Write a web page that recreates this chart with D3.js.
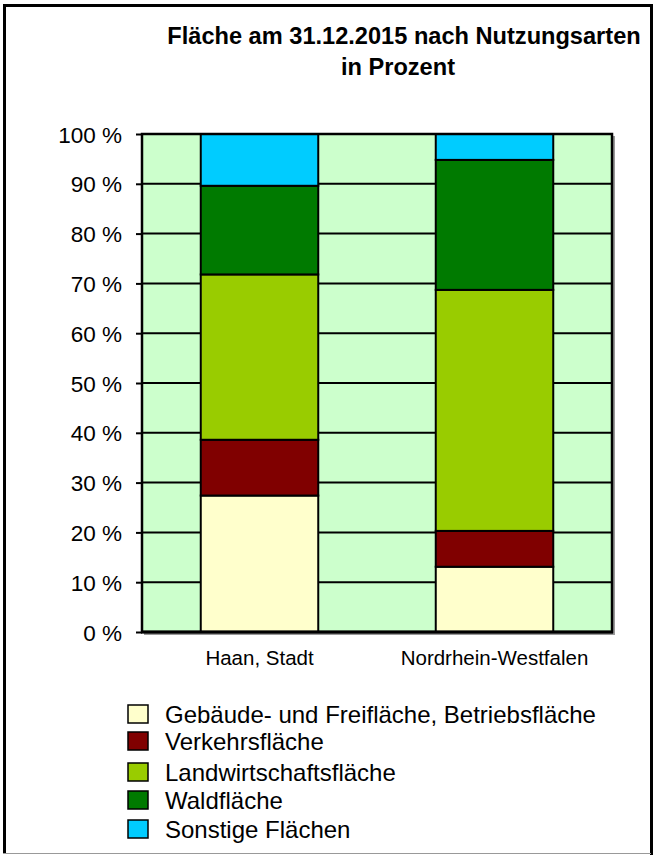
<!DOCTYPE html>
<html>
<head>
<meta charset="utf-8">
<script src="https://cdn.jsdelivr.net/npm/d3@7/dist/d3.min.js"></script>
<style>
  html, body { margin: 0; padding: 0; background: #fff; }
  svg { display: block; font-family: "Liberation Sans", Arial, sans-serif; }
</style>
</head>
<body>
<svg id="chart" width="654" height="855"></svg>
<script>
// ---- data ----
const titleLines = ["Fläche am 31.12.2015 nach Nutzungsarten", "in Prozent"];
const categories = ["Haan, Stadt", "Nordrhein-Westfalen"];
const seriesNames = [
  "Gebäude- und Freifläche, Betriebsfläche",
  "Verkehrsfläche",
  "Landwirtschaftsfläche",
  "Waldfläche",
  "Sonstige Flächen"
];
const seriesColors = ["#FFFFCC", "#800000", "#99CC00", "#007A00", "#00CCFF"];
const gebaeude       = [27.4, 13.1];
const verkehr        = [11.2,  7.2];
const landwirtschaft = [33.2, 48.4];
const wald           = [17.8, 26.1];
const sonstige       = [10.4,  5.2];
const yTicks = [0, 10, 20, 30, 40, 50, 60, 70, 80, 90, 100];

// ---- build table ----
const seriesValues = [gebaeude, verkehr, landwirtschaft, wald, sonstige];
const table = categories.map((c, i) => {
  const row = { cat: c };
  seriesNames.forEach((s, j) => row[s] = seriesValues[j][i]);
  return row;
});
const stacked = d3.stack().keys(seriesNames)(table);

const svg = d3.select("#chart");

// ---- outer frame ----
svg.append("line").attr("x1", 4.5).attr("y1", 5).attr("x2", 4.5).attr("y2", 853)
  .attr("stroke", "#000").attr("stroke-width", 3);
svg.append("line").attr("x1", 3).attr("y1", 5.5).attr("x2", 652).attr("y2", 5.5)
  .attr("stroke", "#000").attr("stroke-width", 3);
svg.append("line").attr("x1", 651.5).attr("y1", 4).attr("x2", 651.5).attr("y2", 855)
  .attr("stroke", "#000").attr("stroke-width", 3);
svg.append("line").attr("x1", 3).attr("y1", 853.5).attr("x2", 651).attr("y2", 853.5)
  .attr("stroke", "#999").attr("stroke-width", 1);

// ---- title ----
const title = svg.append("text").attr("text-anchor", "middle")
  .attr("font-weight", "bold").attr("font-size", 23.6).attr("fill", "#000");
title.append("tspan").attr("x", 404).attr("y", 44).text(titleLines[0]);
title.append("tspan").attr("x", 398).attr("y", 75).text(titleLines[1]);

// ---- scales ----
const plot = { left: 142, right: 612, top: 134, bottom: 632 };
const x = d3.scaleBand().domain(categories).range([plot.left, plot.right])
  .paddingInner(0.5).paddingOuter(0.25);
const y = d3.scaleLinear().domain([0, 100]).range([plot.bottom, plot.top]);

// shadow
svg.append("rect").attr("x", plot.left + 2).attr("y", plot.top + 2)
  .attr("width", plot.right - plot.left + 1).attr("height", plot.bottom - plot.top + 1)
  .attr("fill", "#999");
// plot background
svg.append("rect").attr("x", plot.left).attr("y", plot.top)
  .attr("width", plot.right - plot.left).attr("height", plot.bottom - plot.top)
  .attr("fill", "#CCFFCC");

// gridlines
svg.append("g").selectAll("line").data(yTicks).join("line")
  .attr("x1", plot.left).attr("x2", plot.right)
  .attr("y1", d => y(d)).attr("y2", d => y(d))
  .attr("stroke", "#000").attr("stroke-width", 2);

// bars
svg.append("g").selectAll("g").data(stacked).join("g")
  .attr("fill", (d, i) => seriesColors[i])
  .selectAll("rect").data(d => d).join("rect")
  .attr("x", d => x(d.data.cat))
  .attr("width", x.bandwidth())
  .attr("y", d => y(d[1]))
  .attr("height", d => y(d[0]) - y(d[1]))
  .attr("stroke", "#000").attr("stroke-width", 2);

// plot border
svg.append("rect").attr("x", plot.left).attr("y", plot.top)
  .attr("width", plot.right - plot.left).attr("height", plot.bottom - plot.top)
  .attr("fill", "none").attr("stroke", "#000").attr("stroke-width", 2.5);
svg.append("line").attr("x1", plot.left - 1).attr("x2", plot.right + 1)
  .attr("y1", plot.bottom).attr("y2", plot.bottom)
  .attr("stroke", "#000").attr("stroke-width", 3);

// y axis
const yAxis = svg.append("g").attr("transform", `translate(${plot.left},0)`)
  .call(d3.axisLeft(y).tickValues(yTicks).tickFormat(d => d + " %").tickSize(6).tickPadding(14));
yAxis.select(".domain").remove();
yAxis.selectAll(".tick line").attr("stroke", "#000").attr("stroke-width", 2);
yAxis.selectAll(".tick text").attr("font-size", 22.5).attr("fill", "#000")
  .attr("font-family", "Liberation Sans, Arial, sans-serif").attr("dy", "0.36em");

// x axis labels
const xAxis = svg.append("g").attr("transform", `translate(0,${plot.bottom})`)
  .call(d3.axisBottom(x).tickSize(0).tickPadding(0));
xAxis.select(".domain").remove();
xAxis.selectAll(".tick text").attr("font-size", 20.5).attr("fill", "#000")
  .attr("font-family", "Liberation Sans, Arial, sans-serif")
  .attr("dy", 0).attr("y", 33);

// legend
const legendBaselines = [723, 750, 781, 809, 838];
const legend = svg.append("g");
seriesNames.forEach((s, i) => {
  const g = legend.append("g");
  g.append("rect").attr("x", 128).attr("y", legendBaselines[i] - 18)
    .attr("width", 20).attr("height", 18)
    .attr("fill", seriesColors[i]).attr("stroke", "#000").attr("stroke-width", 1.5);
  g.append("text").attr("x", 165).attr("y", legendBaselines[i])
    .attr("font-size", 24).attr("fill", "#000").text(s);
});
</script>
</body>
</html>
